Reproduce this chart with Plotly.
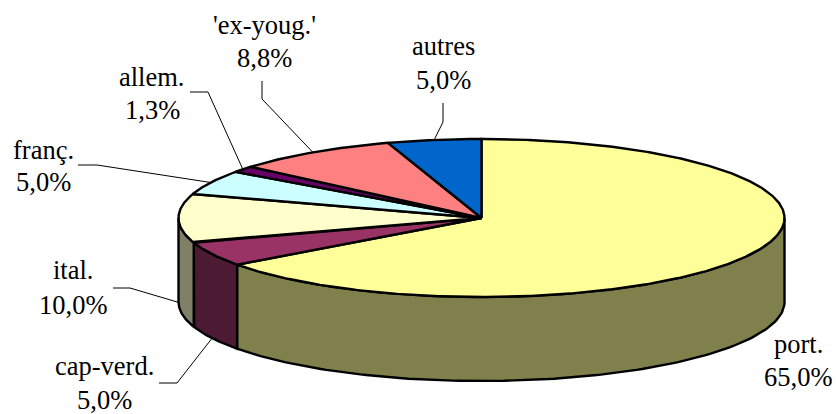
import numpy as np
import plotly.graph_objects as go

categories = ["port.", "cap-verd.", "ital.", "franç.", "allem.", "'ex-youg.'", "autres"]
values = [65.0, 5.0, 10.0, 5.0, 1.3, 8.8, 5.0]
top_colors = ["#FFFF99", "#993366", "#FFFFCC", "#CCFFFF", "#660066", "#FF8080", "#0066CC"]
side_colors = ["#80804D", "#4D1A33", "#808066", "#668080", "#330033", "#804040", "#003366"]

# Geometry of the tilted pie, in pixels of the 836x414 canvas
CX, CY, RX, RY, DEPTH = 481.5, 218, 303, 79, 84
# Label placement: centre x, y of first and second line; leader start and elbow
label_pos = {
    "port.": (798, 344, 377, None, None),
    "cap-verd.": (104, 366, 400, (159, 383), (177, 383)),
    "ital.": (73, 270, 305, (113, 288), (130, 288)),
    "franç.": (43, 150, 182, (78, 165), (97, 165)),
    "allem.": (152, 77, 110, (190, 92), (208, 92)),
    "'ex-youg.'": (264, 25, 58, (262, 81), (262, 99)),
    "autres": (443, 46, 80, (443, 103), (443, 122)),
}
FONT = dict(family="Liberation Serif", size=26.5, color="black")


def rim(a_deg, dy=0.0):
    a = np.radians(np.asarray(a_deg, dtype=float))
    return CX + RX * np.sin(a), CY - RY * np.cos(a) + dy


total = sum(values)
edges = np.concatenate([[0.0], np.cumsum(values) / total * 360.0])
fig = go.Figure()


def poly(x, y, fill):
    fig.add_trace(go.Scatter(x=list(x), y=list(y), mode="lines", fill="toself", fillcolor=fill,
                             line=dict(color="black", width=2.4), hoverinfo="skip", showlegend=False))


# Outer walls: only the part of the rim facing the viewer (90 to 270 degrees)
for i in range(len(values)):
    a0, a1 = max(edges[i], 90.0), min(edges[i + 1], 270.0)
    if a1 <= a0:
        continue
    t = np.linspace(a0, a1, 120)
    xt, yt = rim(t)
    xb, yb = rim(t[::-1], DEPTH)
    poly(np.r_[xt, xb, xt[0]], np.r_[yt, yb, yt[0]], side_colors[i])

# Top faces
for i in range(len(values)):
    t = np.linspace(edges[i], edges[i + 1], max(6, int((edges[i + 1] - edges[i]) * 2)))
    xt, yt = rim(t)
    poly(np.r_[CX, xt, CX], np.r_[CY, yt, CY], top_colors[i])

# Leader lines, ending on the slice's mid-angle
for i, name in enumerate(categories):
    _, _, _, start, elbow = label_pos[name]
    if start is None:
        continue
    mid = (edges[i] + edges[i + 1]) / 2
    ex, ey = rim(mid, DEPTH if 90 < mid <= 270 else 0)
    fig.add_trace(go.Scatter(x=[start[0], elbow[0], float(ex)], y=[start[1], elbow[1], float(ey)],
                             mode="lines", line=dict(color="black", width=1),
                             hoverinfo="skip", showlegend=False))

# Labels
for i, name in enumerate(categories):
    x, y1, y2, _, _ = label_pos[name]
    pct = f"{values[i]:.1f}%".replace(".", ",")
    for txt, y in ((name, y1), (pct, y2)):
        fig.add_annotation(x=x, y=y, text=txt, showarrow=False, xanchor="center", yanchor="middle", font=FONT)

fig.update_layout(
    width=836, height=414, margin=dict(l=0, r=0, t=0, b=0),
    paper_bgcolor="white", plot_bgcolor="white",
    xaxis=dict(range=[0, 836], visible=False, fixedrange=True),
    yaxis=dict(range=[414, 0], visible=False, fixedrange=True),
)
fig.write_html("out.html", config=dict(displayModeBar=False),
               post_script="document.documentElement.style.overflow='hidden';document.body.style.margin='0';")
